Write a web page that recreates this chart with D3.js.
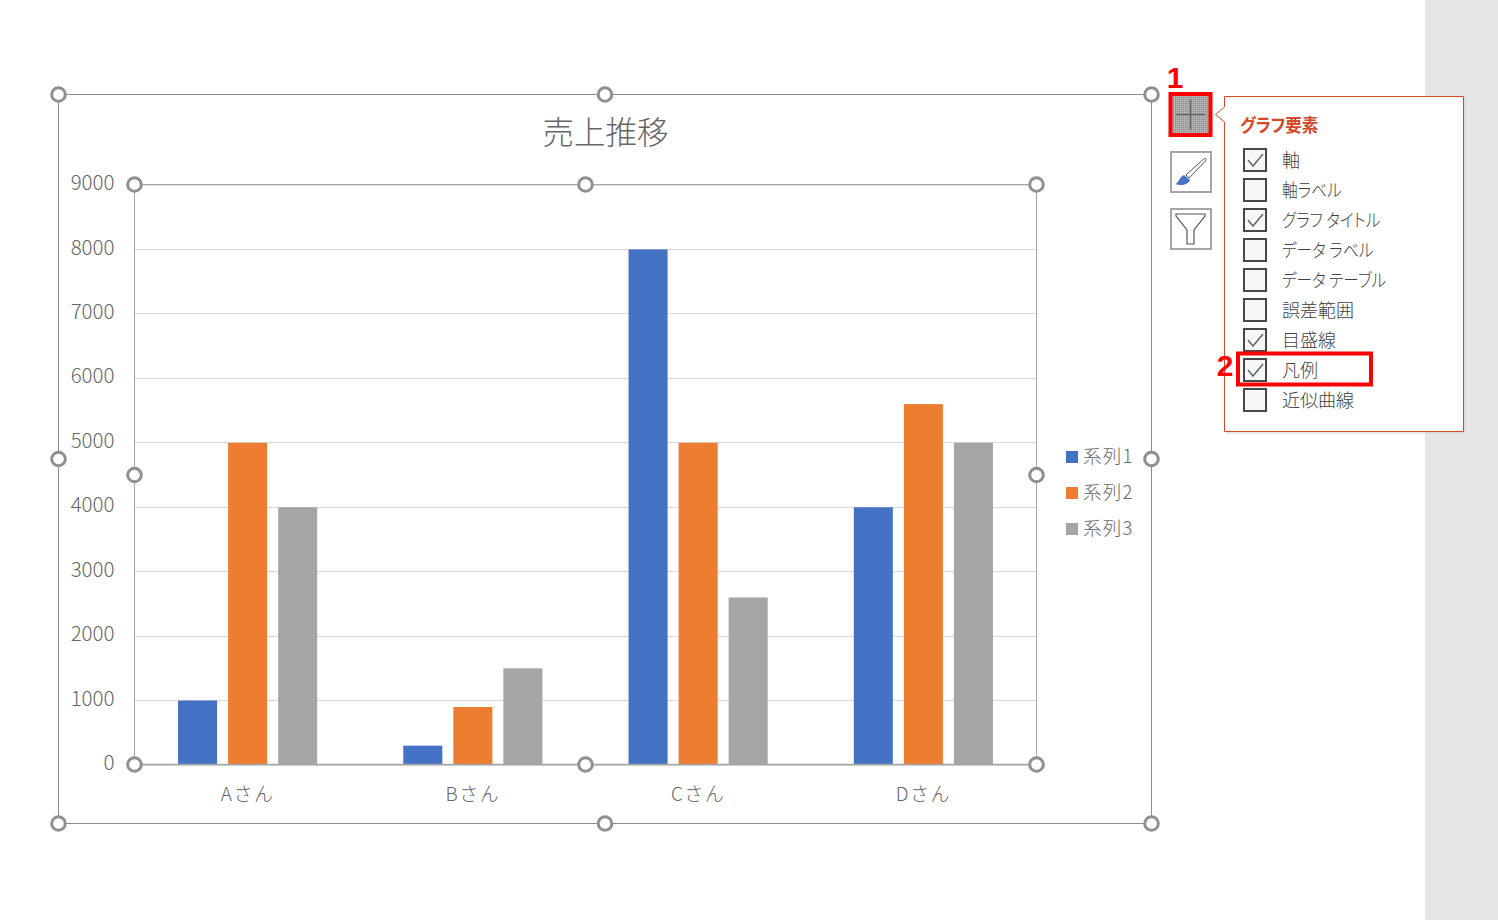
<!DOCTYPE html>
<html lang="ja">
<head>
<meta charset="utf-8">
<title>売上推移</title>
<script src="https://cdn.jsdelivr.net/npm/d3@7"></script>
<style>
  html, body { margin: 0; padding: 0; background: #fff; overflow: hidden; }
  svg { display: block; }
  text { font-family: "Noto Sans CJK JP", "Noto Sans", sans-serif; font-weight: 300; }
  .tick text { fill: #666; font-size: 19px; }
  .kana { font-feature-settings: "palt"; }
</style>
</head>
<body>
<div id="chart"></div>
<script>
const categories = ['Aさん', 'Bさん', 'Cさん', 'Dさん'];
const seriesNames = ['系列1', '系列2', '系列3'];
const series1 = [1000, 300, 8000, 4000];
const series2 = [5000, 900, 5000, 5600];
const series3 = [4000, 1500, 2600, 5000];
const seriesColors = ['#4472c4', '#ed7d31', '#a5a5a5'];
const yTicks = [0, 1000, 2000, 3000, 4000, 5000, 6000, 7000, 8000, 9000];
const chartTitle = '売上推移';
const panelTitle = 'グラフ要素';
const panelLabels = ['軸', '軸ラベル', 'グラフ タイトル', 'データ ラベル', 'データ テーブル', '誤差範囲', '目盛線', '凡例', '近似曲線'];
const panelChecked = [true, false, true, false, false, false, true, true, false];

const width = 1498;
const height = 920;
const plot = { left: 134.5, right: 1036.5, top: 184.5, bottom: 764.5 };
const frame = { left: 58.5, right: 1151.5, top: 94.5, bottom: 823.5 };

const svg = d3.select('#chart').append('svg')
  .attr('width', width)
  .attr('height', height);

// stipple used on the active button
const stipple = svg.append('defs').append('pattern')
  .attr('id', 'stipple').attr('width', 2).attr('height', 2).attr('patternUnits', 'userSpaceOnUse');
stipple.append('rect').attr('width', 2).attr('height', 2).attr('fill', '#9c9c9c');
stipple.append('rect').attr('width', 1).attr('height', 1).attr('fill', '#c4c4c4');

// grey strip on the right of the window
svg.append('rect').attr('x', 1425).attr('y', 0).attr('width', 73).attr('height', height).attr('fill', '#e6e6e6');

const xScale = d3.scaleBand().domain(categories).range([135, 1036]);
const xInner = d3.scaleBand().domain(seriesNames).range([0, xScale.bandwidth()])
  .paddingInner(0.22).paddingOuter(0.86);
const yScale = d3.scaleLinear().domain([0, 9000]).range([765, 185]);

// chart frame
svg.append('rect')
  .attr('x', frame.left).attr('y', frame.top)
  .attr('width', frame.right - frame.left).attr('height', frame.bottom - frame.top)
  .attr('fill', '#fff').attr('stroke', '#8c8c8c').attr('stroke-width', 1);

svg.append('text')
  .attr('x', 605.5).attr('y', 144)
  .attr('text-anchor', 'middle')
  .attr('font-size', 31.5)
  .attr('fill', '#666')
  .text(chartTitle);

// gridlines
const grid = svg.append('g')
  .attr('transform', `translate(${plot.left},0)`)
  .call(d3.axisLeft(yScale).tickValues(yTicks).tickFormat('').tickSize(-(plot.right - plot.left)).offset(0));
grid.select('.domain').remove();
grid.selectAll('line').attr('stroke', '#d9d9d9').attr('stroke-width', 1).attr('shape-rendering', 'crispEdges');

// y labels
const yAxis = svg.append('g')
  .attr('transform', `translate(${plot.left},0)`)
  .call(d3.axisLeft(yScale).tickValues(yTicks).tickSize(0).tickPadding(20).tickFormat(d => String(d)));
yAxis.select('.domain').remove();
yAxis.selectAll('text').attr('dy', '0.3em').style('font-size', '20.5px');
yAxis.selectAll('.tick').attr('transform', d => `translate(0,${yScale(d) - 1})`);

// bars
const allSeries = [series1, series2, series3];
seriesNames.forEach((name, i) => {
  svg.append('g').selectAll('rect')
    .data(categories.map((c, j) => ({ category: c, value: allSeries[i][j] })))
    .join('rect')
    .attr('x', d => xScale(d.category) + xInner(name))
    .attr('y', d => yScale(d.value))
    .attr('width', xInner.bandwidth())
    .attr('height', d => yScale(0) - yScale(d.value))
    .attr('fill', seriesColors[i]);
});

// x axis
const xAxis = svg.append('g')
  .attr('transform', `translate(0,${plot.bottom})`)
  .call(d3.axisBottom(xScale).tickSize(0).tickPadding(23).offset(0));
xAxis.select('.domain').attr('stroke', '#a6a6a6').attr('stroke-width', 1.5);
xAxis.selectAll('text').attr('letter-spacing', '1.5px');

// plot area selection box
svg.append('rect')
  .attr('x', plot.left).attr('y', plot.top)
  .attr('width', plot.right - plot.left).attr('height', plot.bottom - plot.top)
  .attr('fill', 'none').attr('stroke', '#a6a6a6').attr('stroke-width', 1);

// legend
const legend = svg.append('g').selectAll('g')
  .data(seriesNames)
  .join('g')
  .attr('transform', (d, i) => `translate(1066,${451 + i * 36})`);
legend.append('rect').attr('width', 12).attr('height', 12).attr('fill', (d, i) => seriesColors[i]);
legend.append('text')
  .attr('x', 17).attr('y', 12)
  .attr('font-size', 18.5)
  .attr('letter-spacing', '1.2px')
  .attr('fill', '#666')
  .text(d => d);

// selection handles
const handles = [
  [frame.left, frame.top], [605, frame.top], [frame.right, frame.top],
  [frame.left, 459], [frame.right, 459],
  [frame.left, frame.bottom], [605, frame.bottom], [frame.right, frame.bottom],
  [plot.left, plot.top], [585.5, plot.top], [plot.right, plot.top],
  [plot.left, 475], [plot.right, 475],
  [plot.left, plot.bottom], [585.5, plot.bottom], [plot.right, plot.bottom]
];
svg.append('g').selectAll('circle')
  .data(handles)
  .join('circle')
  .attr('cx', d => d[0])
  .attr('cy', d => d[1])
  .attr('r', 6.8)
  .attr('fill', '#fff')
  .attr('stroke', '#8f8f8f')
  .attr('stroke-width', 3);

// side buttons
const buttons = svg.append('g');
buttons.append('rect').attr('x', 1170.5).attr('y', 94).attr('width', 40).attr('height', 41)
  .attr('fill', 'url(#stipple)').attr('stroke', '#f00').attr('stroke-width', 4);
buttons.append('path').attr('d', 'M1190.5 99.5V129.5M1176 114.5H1205').attr('stroke', '#5f6b66').attr('stroke-width', 1.5).attr('fill', 'none');
buttons.append('rect').attr('x', 1171).attr('y', 152).attr('width', 40).attr('height', 40)
  .attr('fill', '#fff').attr('stroke', '#a6a6a6').attr('stroke-width', 2);
buttons.append('path').attr('d', 'M1186 175L1203 159.5C1205.5 157.5 1207 158.5 1205.5 161L1189 178Z')
  .attr('fill', '#fff').attr('stroke', '#555').attr('stroke-width', 1);
buttons.append('path').attr('d', 'M1175 184C1179 183 1179 177 1184 175L1190 180C1188 185 1181 186 1175 184Z').attr('fill', '#4472c4');
buttons.append('rect').attr('x', 1171).attr('y', 209).attr('width', 40).attr('height', 40)
  .attr('fill', '#fff').attr('stroke', '#a6a6a6').attr('stroke-width', 2);
buttons.append('path').attr('d', 'M1176 214H1205V216L1194 230V244H1187V230L1176 216Z')
  .attr('fill', '#fff').attr('stroke', '#555').attr('stroke-width', 1.2);

// chart elements popup
const panel = svg.append('g');
panel.append('rect').attr('x', 1226).attr('y', 98).attr('width', 240).attr('height', 336).attr('fill', '#d0d0d0').attr('opacity', 0.5);
panel.append('path')
  .attr('d', 'M1224.5 96.5H1463.5V431.5H1224.5V122L1215.5 114.5L1224.5 107Z')
  .attr('fill', '#fff').attr('stroke', '#d2492a').attr('stroke-width', 1);
panel.append('text')
  .attr('class', 'kana')
  .attr('transform', 'translate(1240,132) scale(0.92,1)')
  .attr('font-size', 18).attr('fill', '#d2492a').style('font-weight', 700).text(panelTitle);

const rows = panel.selectAll('g.row')
  .data(panelLabels)
  .join('g')
  .attr('class', 'row')
  .attr('transform', (d, i) => `translate(0,${160 + i * 30})`);
rows.append('rect')
  .attr('x', 1244).attr('y', -11).attr('width', 22).attr('height', 22)
  .attr('fill', '#f7f7f7').attr('stroke', '#484848').attr('stroke-width', 2);
rows.filter((d, i) => panelChecked[i]).append('path')
  .attr('d', 'M1248 0L1253 6L1263 -6')
  .attr('fill', 'none').attr('stroke', '#5f6b66').attr('stroke-width', 1.5);
// katakana is set narrower than kanji in the popup
rows.append('text')
  .attr('class', 'kana')
  .attr('transform', d => `translate(1282,6.5) scale(${/[ァ-ヶー]/.test(d) ? 0.87 : 1},1)`)
  .attr('font-size', 18).attr('fill', '#404040')
  .text(d => d);

// red highlight around 凡例
svg.append('rect').attr('x', 1238).attr('y', 353.5).attr('width', 133).attr('height', 31)
  .attr('fill', 'none').attr('stroke', '#f00').attr('stroke-width', 4);

// red step numbers
svg.append('text').attr('x', 1175).attr('y', 88).attr('text-anchor', 'middle')
  .attr('font-size', 30).attr('fill', '#f00').style('font-weight', 700).style('font-family', '"Liberation Sans", sans-serif').text('1');
svg.append('text').attr('x', 1225).attr('y', 376).attr('text-anchor', 'middle')
  .attr('font-size', 30).attr('fill', '#f00').style('font-weight', 700).style('font-family', '"Liberation Sans", sans-serif').text('2');
</script>
</body>
</html>
